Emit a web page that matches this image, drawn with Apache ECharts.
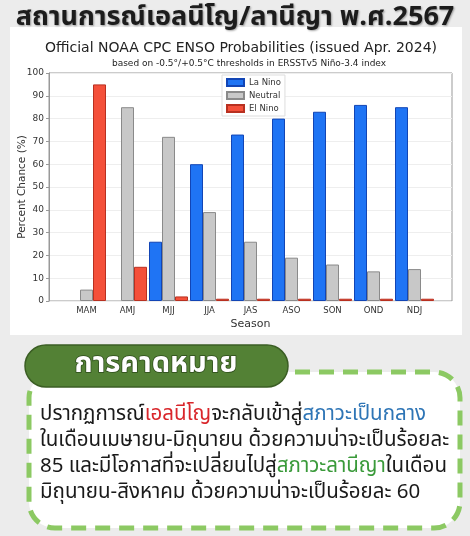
<!DOCTYPE html>
<html><head><meta charset="utf-8">
<script src="https://cdn.jsdelivr.net/npm/echarts@6/dist/echarts.min.js"></script>
<style>html,body{margin:0;padding:0;background:#ececec}#c{width:470px;height:536px}</style>
</head><body><div id="c"></div>
<script>
const seasons = ['MAM','AMJ','MJJ','JJA','JAS','ASO','SON','OND','NDJ'];
const laNina  = [0, 0, 26, 60, 73, 80, 83, 86, 85];
const neutral = [5, 85, 72, 39, 26, 19, 16, 13, 14];
const elNino  = [95, 15, 2, 1, 1, 1, 1, 1, 1];
const yTicks = [0,10,20,30,40,50,60,70,80,90,100];

const chart = echarts.init(document.getElementById('c'), null, {renderer:'canvas'});
const thai = '"Noto Sans Thai", "Noto Sans", Tahoma, sans-serif';
const mpl = '"DejaVu Sans", sans-serif';
function bar(name, data, color, edge){
  return {name, type:'bar', xAxisIndex:1, yAxisIndex:1, data:data.map(v=>v===0?null:v), barWidth:13, barGap:'0%',
    itemStyle:{color, borderColor:edge, borderWidth:1}};
}
chart.setOption({
  animation:false,
  backgroundColor:'#ececec',
  color:['#1f74f4','#c8c8c8','#f4503a'],
  grid:[
    {left:49, right:18, top:73, bottom:235, show:true, borderColor:'#999', borderWidth:1, backgroundColor:'#fff'},
    {left:66, right:35, top:73, bottom:235}
  ],
  legend:{orient:'vertical', left:222, top:75, itemWidth:17, itemHeight:7, itemGap:4,
    padding:[3,4,3,4], borderColor:'#ddd', borderWidth:1, backgroundColor:'#fff',
    textStyle:{fontSize:8.5, color:'#333', fontFamily:mpl}, icon:'rect',
    data:['La Nino','Neutral','El Nino']},
  xAxis:[
    {type:'value', gridIndex:0, min:0, max:1, show:false},
    {type:'category', gridIndex:1, data:seasons, name:'Season', nameLocation:'middle', nameGap:18,
      nameTextStyle:{fontSize:11, color:'#333', fontFamily:mpl},
      axisLine:{show:false}, axisTick:{show:false},
      axisLabel:{fontSize:8.5, color:'#333', fontFamily:mpl, margin:5}}
  ],
  yAxis:[
    {type:'value', gridIndex:0, min:0, max:100, interval:10, name:'Percent Chance (%)', nameLocation:'middle', nameGap:21,
      nameMoveOverlap:false,
      nameTextStyle:{fontSize:10.5, color:'#333', fontFamily:mpl},
      axisLine:{show:true, lineStyle:{color:'#999'}}, axisTick:{show:true, length:3, lineStyle:{color:'#999'}},
      axisLabel:{fontSize:9, color:'#333', fontFamily:mpl, margin:5, formatter:v=>yTicks.includes(v)?String(v):''},
      splitLine:{show:true, lineStyle:{color:'#eeeeee'}}},
    {type:'value', gridIndex:1, min:0, max:100, show:false}
  ],
  series:[
    bar('La Nino', laNina, '#1f74f4', '#1245b5'),
    bar('Neutral', neutral, '#c8c8c8', '#8a8a8a'),
    bar('El Nino', elNino, '#f4503a', '#b83020')
  ],
  graphic:[
    {type:'rect', z:-10, silent:true, shape:{x:10,y:27,width:452,height:308}, style:{fill:'#fff'}},
    {type:'text', x:235, y:20, style:{text:'สถานการณ์เอลนีโญ/ลานีญา พ.ศ.2567', font:'bold 27px '+thai, fill:'#1c1c1c',
      align:'center', verticalAlign:'middle',
      textShadowColor:'rgba(0,0,0,0.35)', textShadowBlur:2, textShadowOffsetX:1, textShadowOffsetY:1}},
    {type:'text', x:241, y:48, style:{text:'Official NOAA CPC ENSO Probabilities (issued Apr. 2024)', font:'14px '+mpl, fill:'#222', align:'center', verticalAlign:'middle'}},
    {type:'text', x:249, y:64, style:{text:'based on -0.5°/+0.5°C thresholds in ERSSTv5 Niño-3.4 index', font:'9px '+mpl, fill:'#222', align:'center', verticalAlign:'middle'}},
    {type:'rect', shape:{x:29,y:372,width:431,height:156,r:26}, style:{fill:'#fff', stroke:'#8cc963', lineWidth:5, lineDash:[15,9]}},
    {type:'rect', shape:{x:25,y:345,width:263,height:42,r:21}, style:{fill:'#538135', stroke:'#3b5e24', lineWidth:1.5}},
    {type:'text', x:156, y:366, style:{text:'การคาดหมาย', font:'bold 29px '+thai, fill:'#fff', align:'center', verticalAlign:'middle',
      stroke:'#2c4a1a', lineWidth:1.5}},
    {type:'text', x:40, y:403, style:{
      text:'{k|ปรากฏการณ์}{r|เอลนีโญ}{k|จะกลับเข้าสู่}{b|สภาวะเป็นกลาง}\n{k|ในเดือนเมษายน-มิถุนายน ด้วยความน่าจะเป็นร้อยละ}\n{k|85 และมีโอกาสที่จะเปลี่ยนไปสู่}{g|สภาวะลานีญา}{k|ในเดือน}\n{k|มิถุนายน-สิงหาคม ด้วยความน่าจะเป็นร้อยละ 60}',
      rich:{
        k:{font:'20.5px '+thai, fill:'#1a1a1a', lineHeight:26},
        r:{font:'20.5px '+thai, fill:'#d9262b', lineHeight:26},
        b:{font:'20.5px '+thai, fill:'#2e75b6', lineHeight:26},
        g:{font:'20.5px '+thai, fill:'#3a9a3a', lineHeight:26}
      }}}
  ]
});
</script></body></html>
